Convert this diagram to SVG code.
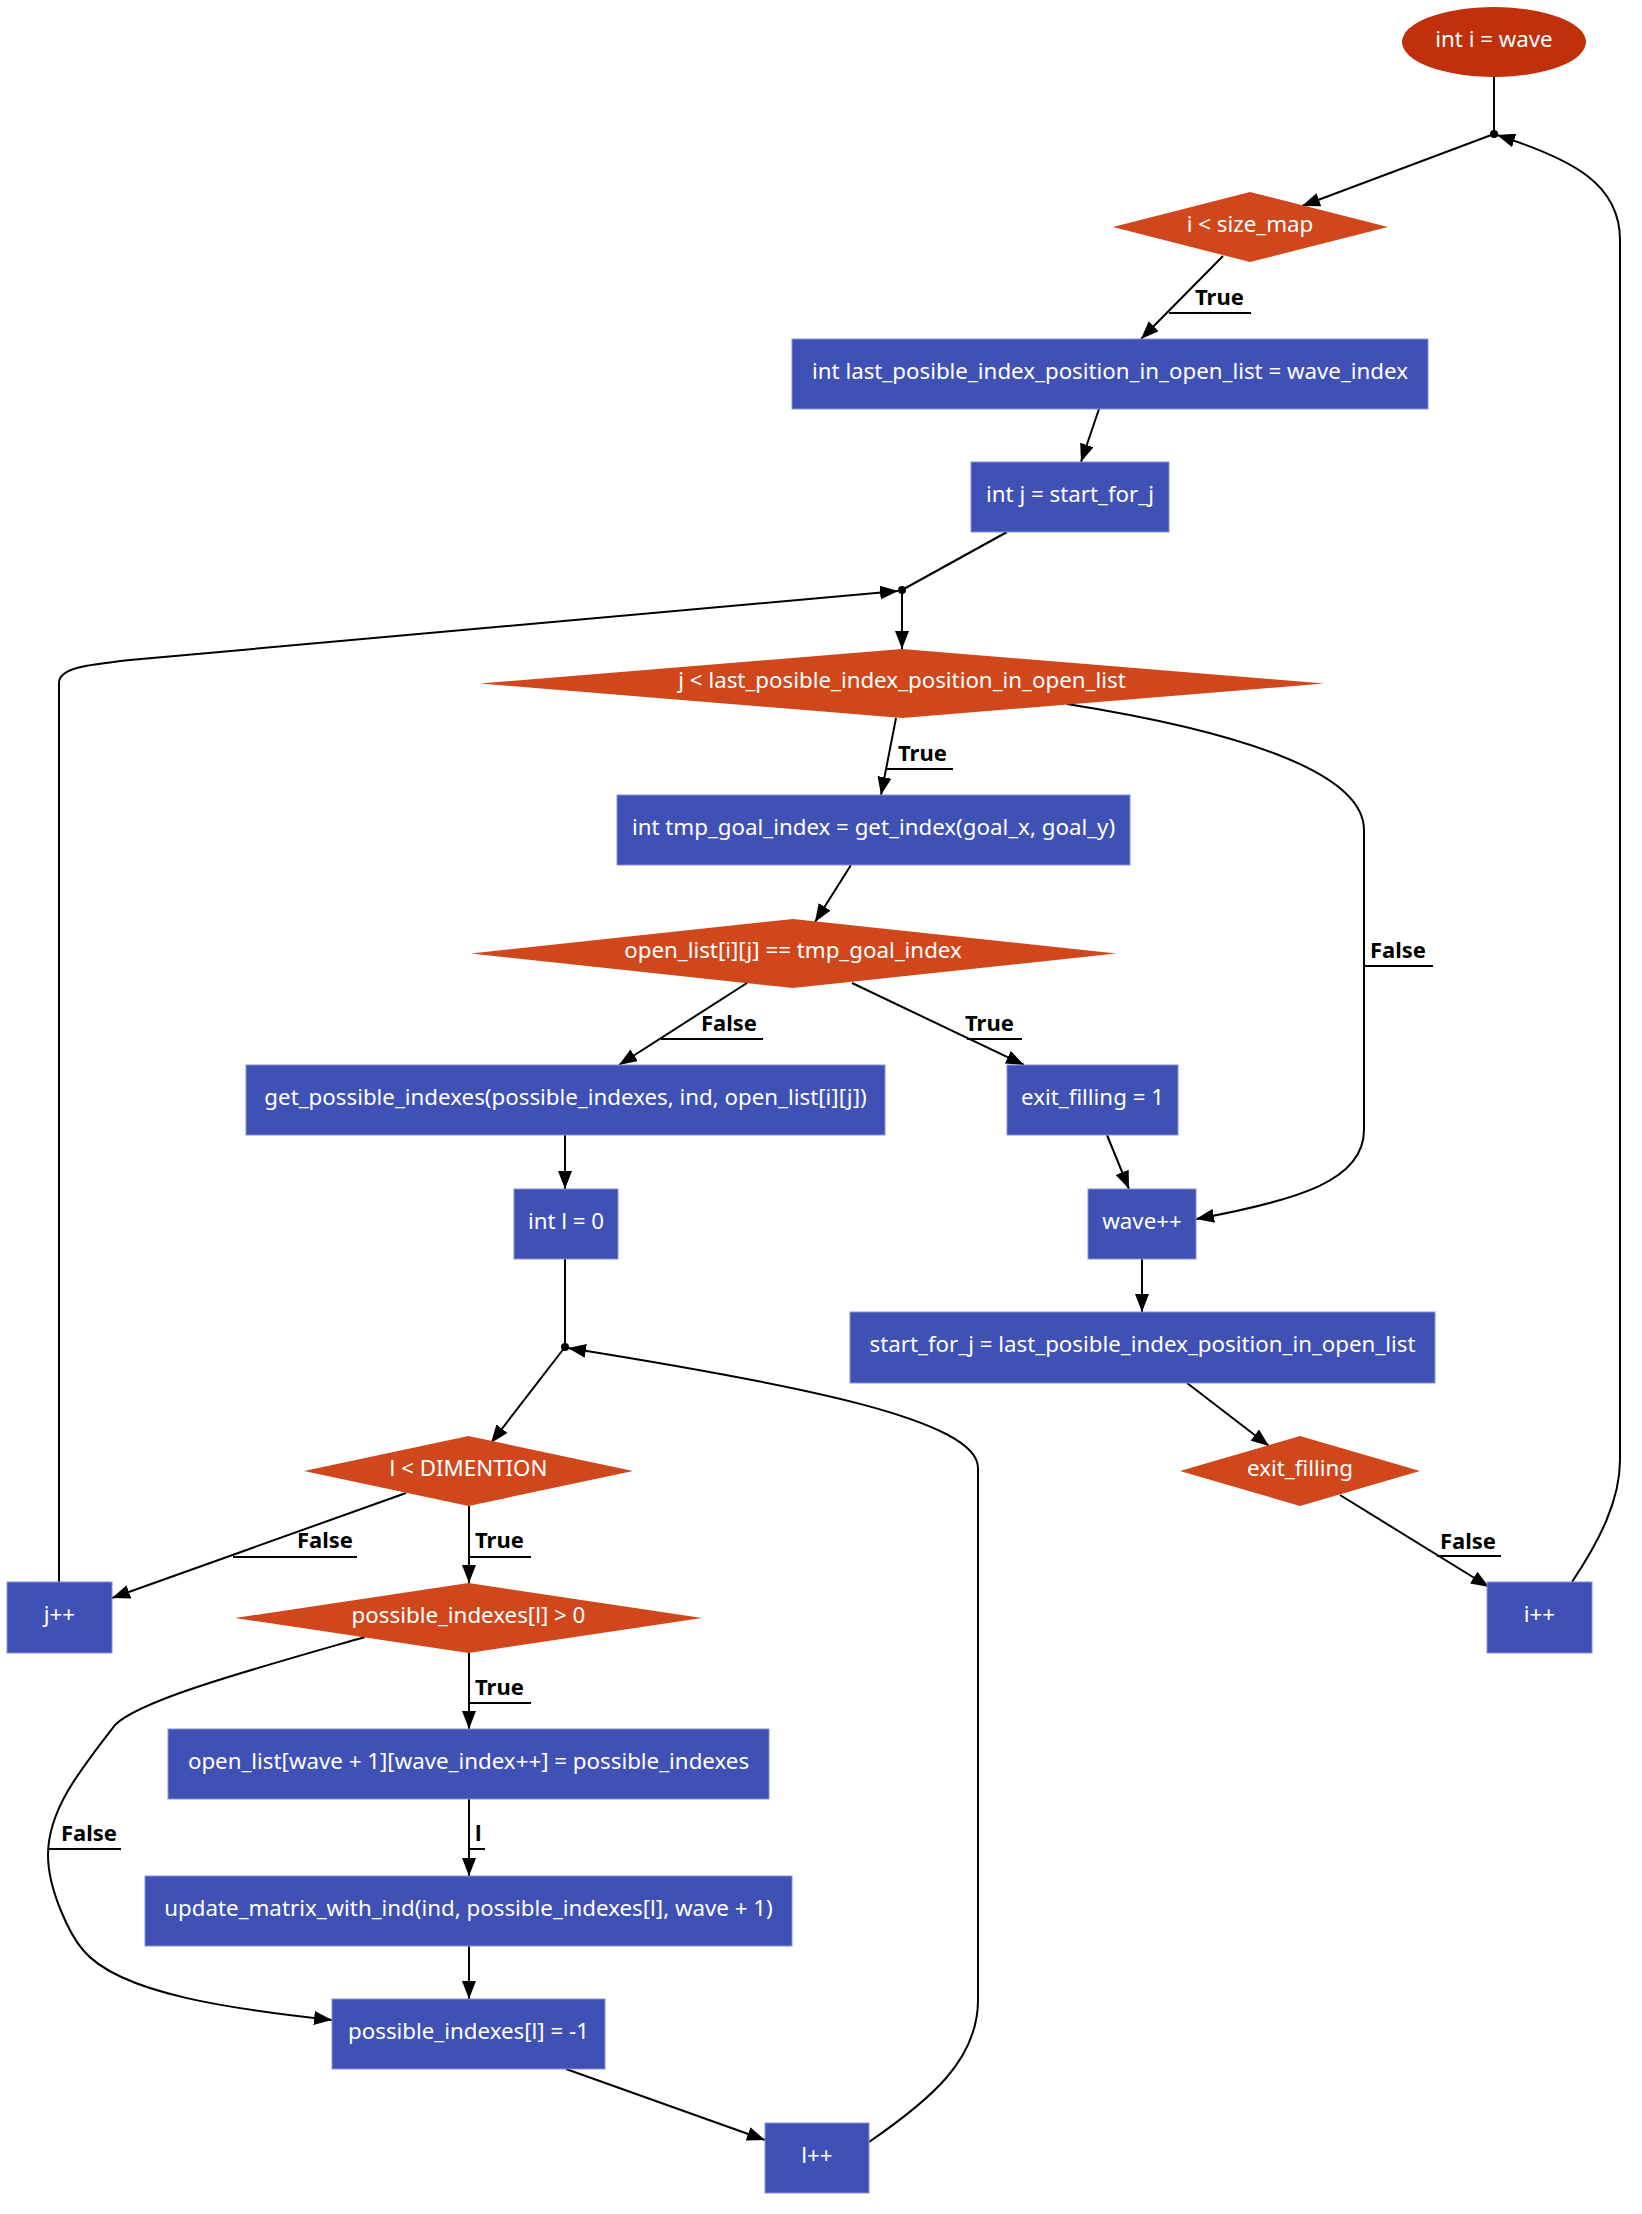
<svg xmlns="http://www.w3.org/2000/svg" width="1642" height="2214" viewBox="0 0 1642 2214">
<style>
.box{fill:#3F51B5;stroke:#8590d8;stroke-width:1}
.dia{fill:#D1471C}
.ell{fill:#C0300A}
.pt{fill:#000}
.nt{font-family:"Noto Sans","Open Sans",sans-serif;font-size:22.3px;fill:#fff;text-anchor:middle}
.e{fill:none;stroke:#000;stroke-width:2}
.ea{fill:none;stroke:#000;stroke-width:2;marker-end:url(#ah)}
.lt{font-family:"Noto Sans","Open Sans",sans-serif;font-size:22px;font-weight:bold;fill:#000}
.ul{stroke:#000;stroke-width:2}
</style>
<defs>
<marker id="ah" markerUnits="userSpaceOnUse" markerWidth="20" markerHeight="14" refX="18" refY="7" orient="auto">
<path d="M0,0 L18,7 L0,14 z" fill="#000"/>
</marker>
</defs>
<rect width="1642" height="2214" fill="#fff"/>
<g id="connectors">
<path class="e" d="M1494,77 L1494,134"/>
<path class="ea" d="M1494,134 L1302,206"/>
<path class="ea" d="M1223,256 L1141,339"/>
<path class="ea" d="M1099,409 L1081,462"/>
<path class="e" d="M1007,532 L902,590"/>
<path class="ea" d="M902,590 L902,649"/>
<path class="ea" d="M59,1582 L59,683 C59,668 85,665 130,660 L898,591"/>
<path class="ea" d="M896,718 L881,795"/>
<path class="ea" d="M1067,704 C1230,730 1364,770 1364,830 L1364,1130 C1364,1180 1300,1200 1196,1219"/>
<path class="ea" d="M851,865 L815,922"/>
<path class="ea" d="M747,983 L619,1065"/>
<path class="ea" d="M852,983 L1024,1065"/>
<path class="ea" d="M1107,1135 L1129,1189"/>
<path class="ea" d="M1142,1259 L1142,1312"/>
<path class="ea" d="M1187,1383 L1269,1446"/>
<path class="ea" d="M1340,1495 L1489,1587"/>
<path class="ea" d="M1572,1582 C1600,1540 1620,1500 1620,1460 L1620,240 C1620,185 1575,160 1497,135"/>
<path class="ea" d="M565,1135 L565,1189"/>
<path class="e" d="M565,1259 L565,1347"/>
<path class="ea" d="M565,1347 L491,1443"/>
<path class="ea" d="M869,2142 C930,2100 978,2060 978,2000 L978,1468 C978,1420 800,1385 568,1348"/>
<path class="ea" d="M406,1493 L112,1598"/>
<path class="ea" d="M469,1506 L469,1583"/>
<path class="ea" d="M469,1653 L469,1729"/>
<path class="ea" d="M365,1637 C250,1670 140,1700 115,1725 C80,1770 48,1810 48,1855 C48,1890 70,1935 83,1950 C120,1995 240,2010 332,2020"/>
<path class="ea" d="M469,1799 L469,1876"/>
<path class="ea" d="M469,1946 L469,1999"/>
<path class="ea" d="M566,2069 L765,2140"/>
<text class="lt" x="1195" y="305">True</text><line class="ul" x1="1169" y1="313" x2="1251" y2="313"/>
<text class="lt" x="898" y="761">True</text><line class="ul" x1="886" y1="769" x2="953" y2="769"/>
<text class="lt" x="701" y="1031">False</text><line class="ul" x1="661" y1="1039" x2="763" y2="1039"/>
<text class="lt" x="965" y="1031">True</text><line class="ul" x1="967" y1="1039" x2="1022" y2="1039"/>
<text class="lt" x="1370" y="958">False</text><line class="ul" x1="1364" y1="966" x2="1433" y2="966"/>
<text class="lt" x="1440" y="1549">False</text><line class="ul" x1="1437" y1="1556" x2="1501" y2="1556"/>
<text class="lt" x="297" y="1548">False</text><line class="ul" x1="233" y1="1557" x2="357" y2="1557"/>
<text class="lt" x="475" y="1548">True</text><line class="ul" x1="469" y1="1557" x2="531" y2="1557"/>
<text class="lt" x="475" y="1695">True</text><line class="ul" x1="469" y1="1703" x2="531" y2="1703"/>
<text class="lt" x="61" y="1841">False</text><line class="ul" x1="48" y1="1849" x2="121" y2="1849"/>
<text class="lt" x="475" y="1841">l</text><line class="ul" x1="469" y1="1849" x2="485" y2="1849"/>
</g>
<g id="n1"><ellipse class="ell" cx="1494" cy="42" rx="92" ry="35"/><text class="nt" x="1494" y="47">int i = wave</text></g>
<g id="p1"><circle class="pt" cx="1494" cy="134" r="4"/></g>
<g id="d1"><polygon class="dia" points="1250,192 1388,227 1250,262 1113,227"/><text class="nt" x="1250" y="232">i &lt; size_map</text></g>
<g id="b1"><rect class="box" x="792" y="339" width="636" height="70"/><text class="nt" x="1110" y="379">int last_posible_index_position_in_open_list = wave_index</text></g>
<g id="b2"><rect class="box" x="971" y="462" width="198" height="70"/><text class="nt" x="1070" y="502">int j = start_for_j</text></g>
<g id="p2"><circle class="pt" cx="902" cy="590" r="4"/></g>
<g id="d2"><polygon class="dia" points="902,649 1324,683.5 902,718 480,683.5"/><text class="nt" x="902" y="688">j &lt; last_posible_index_position_in_open_list</text></g>
<g id="b3"><rect class="box" x="617" y="795" width="513" height="70"/><text class="nt" x="873.5" y="835">int tmp_goal_index = get_index(goal_x, goal_y)</text></g>
<g id="d3"><polygon class="dia" points="793,919 1116,953.5 793,988 471,953.5"/><text class="nt" x="793" y="958">open_list[i][j] == tmp_goal_index</text></g>
<g id="b4"><rect class="box" x="246" y="1065" width="639" height="70"/><text class="nt" x="565.5" y="1105">get_possible_indexes(possible_indexes, ind, open_list[i][j])</text></g>
<g id="b5"><rect class="box" x="1007" y="1065" width="171" height="70"/><text class="nt" x="1092.5" y="1105">exit_filling = 1</text></g>
<g id="b6"><rect class="box" x="514" y="1189" width="104" height="70"/><text class="nt" x="566" y="1229">int l = 0</text></g>
<g id="p3"><circle class="pt" cx="565" cy="1347" r="4"/></g>
<g id="b7"><rect class="box" x="1088" y="1189" width="108" height="70"/><text class="nt" x="1142" y="1229">wave++</text></g>
<g id="b8"><rect class="box" x="850" y="1312" width="585" height="71"/><text class="nt" x="1142.5" y="1352">start_for_j = last_posible_index_position_in_open_list</text></g>
<g id="d4"><polygon class="dia" points="1300,1436 1420,1471 1300,1506 1180,1471"/><text class="nt" x="1300" y="1476">exit_filling</text></g>
<g id="b9"><rect class="box" x="1487" y="1582" width="105" height="71"/><text class="nt" x="1539.5" y="1622">i++</text></g>
<g id="d5"><polygon class="dia" points="468.5,1436 633,1471 468.5,1506 304,1471"/><text class="nt" x="468.5" y="1476">l &lt; DIMENTION</text></g>
<g id="b10"><rect class="box" x="7" y="1582" width="105" height="71"/><text class="nt" x="59.5" y="1622">j++</text></g>
<g id="d6"><polygon class="dia" points="468.5,1583 702,1618 468.5,1653 235,1618"/><text class="nt" x="468.5" y="1623">possible_indexes[l] &gt; 0</text></g>
<g id="b11"><rect class="box" x="168" y="1729" width="601" height="70"/><text class="nt" x="468.5" y="1769">open_list[wave + 1][wave_index++] = possible_indexes</text></g>
<g id="b12"><rect class="box" x="145" y="1876" width="647" height="70"/><text class="nt" x="468.5" y="1916">update_matrix_with_ind(ind, possible_indexes[l], wave + 1)</text></g>
<g id="b13"><rect class="box" x="332" y="1999" width="273" height="70"/><text class="nt" x="468.5" y="2039">possible_indexes[l] = -1</text></g>
<g id="b14"><rect class="box" x="765" y="2123" width="104" height="70"/><text class="nt" x="817" y="2163">l++</text></g>
</svg>
